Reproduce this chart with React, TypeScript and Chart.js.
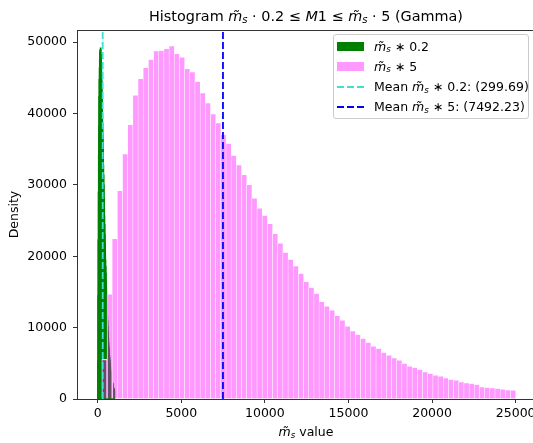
import React, { useEffect, useRef } from 'react';
import { Chart, registerables } from 'chart.js';

Chart.register(...registerables);

// ---- data ----
// histogram of m_s * 5 : 80 equal bins between these edges
const pinkBinStart = 250;
const pinkBinEnd = 25000;
const pinkCounts = [
  5560, 14680, 22430, 29160, 34300, 38410, 42530, 44860, 46400, 47570,
  48740, 48830, 49060, 49440, 48360, 47860, 46260, 45790, 44490, 42850,
  41450, 39910, 38650, 37010, 35800, 34120, 32760, 31400, 30000, 28130,
  26730, 25710, 24530, 23130, 21820, 20520, 19540, 18640, 17580, 16400,
  15610, 14770, 13600, 12990, 12430, 11640, 11030, 10190, 9530, 9020,
  8460, 7900, 7390, 7060, 6500, 6120, 5750, 5420, 4960, 4580,
  4400, 4120, 3780, 3560, 3320, 3180, 2940, 2720, 2620, 2380,
  2240, 2160, 2020, 1680, 1600, 1540, 1460, 1360, 1260, 1220,
];
// histogram of m_s * 0.2 : the same sample scaled by 1/25, 80 bins
const greenBinStart = 10;
const greenBinEnd = 1000;
const greenCounts = [
  5400, 14500, 22300, 29000, 34200, 38300, 42400, 44800, 46400, 47600,
  48600, 48800, 49000, 49200, 48300, 47800, 46300, 45800, 44500, 42900,
  41400, 39900, 38600, 37000, 35800, 34100, 32800, 31400, 30000, 28100,
  26700, 25700, 24500, 23100, 21800, 20500, 19500, 18600, 17600, 16400,
  15600, 14800, 13600, 13000, 12400, 11600, 11000, 10200, 9500, 9000,
  8500, 7900, 7400, 7100, 6500, 6100, 5800, 5400, 5000, 4600,
  4400, 4100, 3800, 3600, 3300, 3200, 2900, 2700, 2600, 2400,
  2200, 2200, 2000, 1700, 1600, 1500, 1500, 1400, 1300, 1200,
];
const meanSmall = 299.69;
const meanLarge = 7492.23;
const xTicks = [0, 5000, 10000, 15000, 20000, 25000];
const yTicks = [0, 10000, 20000, 30000, 40000, 50000];
const xMin = -1238;
const xMax = 26035;
const yMin = 0;
const yMax = 51700;

const FONT = '"DejaVu Sans", sans-serif';

function binsToPoints(start: number, end: number, counts: number[]) {
  const w = (end - start) / counts.length;
  return counts.map((c, i) => ({ x: start + w * (i + 0.5), y: c }));
}

const Ms = () => (
  <span style={{ whiteSpace: 'nowrap' }}>
    <span style={{ fontStyle: 'italic' }}>m&#x303;</span>
    <span style={{ fontStyle: 'italic', fontSize: '0.7em', position: 'relative', top: '0.22em' }}>s</span>
  </span>
);

const DashSwatch = ({ color }: { color: string }) => (
  <svg width={28} height={4} style={{ position: 'absolute', left: 3, top: -2 }}>
    <line x1={0} y1={2} x2={28} y2={2} stroke={color} strokeWidth={1.8} strokeDasharray="7 3" />
  </svg>
);

export default function App() {
  const ref = useRef<HTMLCanvasElement>(null);

  useEffect(() => {
    const canvas = ref.current;
    if (!canvas) return;
    Chart.defaults.font.family = FONT;
    const axisColor = '#333333';
    const plain = (v: any) => String(v);
    const chart = new Chart(canvas, {
      type: 'bar',
      data: {
        datasets: [
          {
            type: 'bar',
            label: 'ms*0.2',
            data: binsToPoints(greenBinStart, greenBinEnd, greenCounts),
            xAxisID: 'x2',
            backgroundColor: '#008000',
            borderWidth: 0,
            barThickness: 1.1,
            grouped: false,
            order: 2,
          } as any,
          {
            type: 'bar',
            label: 'ms*5',
            data: binsToPoints(pinkBinStart, pinkBinEnd, pinkCounts),
            xAxisID: 'x',
            backgroundColor: 'rgba(255,0,255,0.4)',
            borderColor: '#ffffff',
            borderWidth: { left: 0.5, right: 0.5, top: 0.5, bottom: 0 },
            borderSkipped: 'start',
            barPercentage: 1,
            categoryPercentage: 1,
            grouped: false,
            order: 1,
          } as any,
          {
            type: 'line',
            label: 'mean small',
            data: [{ x: meanSmall, y: yMin }, { x: meanSmall, y: yMax }],
            xAxisID: 'x',
            borderColor: '#40E0D0',
            borderWidth: 1.8,
            borderDash: [7, 3],
            pointRadius: 0,
            order: 0,
          } as any,
          {
            type: 'line',
            label: 'mean large',
            data: [{ x: meanLarge, y: yMin }, { x: meanLarge, y: yMax }],
            xAxisID: 'x',
            borderColor: '#0000ff',
            borderWidth: 1.8,
            borderDash: [7, 3],
            pointRadius: 0,
            order: 0,
          } as any,
        ],
      },
      options: {
        responsive: false,
        animation: false,
        devicePixelRatio: 1,
        events: [],
        layout: { padding: { top: 30, right: 0, bottom: 0, left: 0 } },
        plugins: { legend: { display: false }, tooltip: { enabled: false }, title: { display: false } },
        scales: {
          x: {
            type: 'linear',
            position: 'bottom',
            min: xMin,
            max: xMax,
            offset: false,
            grid: { drawOnChartArea: false, drawTicks: true, tickLength: 4, color: axisColor, offset: false },
            border: { display: true, color: axisColor, width: 1 },
            ticks: { color: '#000', font: { size: 12.5, family: FONT }, padding: 3, autoSkip: false, maxRotation: 0, callback: plain },
            afterBuildTicks: (s: any) => { s.ticks = xTicks.map((v) => ({ value: v })); },
            afterFit: (s: any) => { s.height = 44; s.paddingLeft = 0; s.paddingRight = 0; },
          },
          x2: {
            type: 'linear',
            position: 'top',
            min: xMin,
            max: xMax,
            offset: false,
            grid: { drawOnChartArea: false, drawTicks: false, offset: false },
            border: { display: true, color: axisColor, width: 1 },
            ticks: { display: false },
            afterFit: (s: any) => { s.height = 0; s.paddingLeft = 0; s.paddingRight = 0; },
          },
          y: {
            type: 'linear',
            min: yMin,
            max: yMax,
            grid: { drawOnChartArea: false, drawTicks: true, tickLength: 4, color: axisColor },
            border: { display: true, color: axisColor, width: 1 },
            ticks: { color: '#000', font: { size: 12.5, family: FONT }, padding: 6, callback: plain },
            title: { display: true, text: 'Density', color: '#000', font: { size: 12.5, family: FONT }, padding: { top: 7.5, bottom: 0 } },
            afterBuildTicks: (s: any) => { s.ticks = yTicks.map((v) => ({ value: v })); },
            afterFit: (s: any) => { s.width = 77; s.paddingTop = 0; s.paddingBottom = 0; },
          },
        },
      } as any,
    });
    return () => chart.destroy();
  }, []);

  const rowText: React.CSSProperties = {
    position: 'absolute', left: 40, top: -8, fontSize: 12.5, lineHeight: '16px', whiteSpace: 'nowrap', color: '#000',
  };

  return (
    <div style={{ position: 'fixed', left: 0, top: 0, width: 533, height: 443, overflow: 'hidden', background: '#fff', fontFamily: FONT }}>
      <canvas ref={ref} width={533} height={443} style={{ position: 'absolute', left: 0, top: 0, width: 533, height: 443 }} />
      {/* title */}
      <div style={{ position: 'absolute', left: 77, width: 458, top: 7.5, textAlign: 'center', fontSize: 14.4, lineHeight: '17px', whiteSpace: 'nowrap', color: '#000' }}>
        Histogram <Ms /> · 0.2 ≤ <i>M</i>1 ≤ <Ms /> · 5 (Gamma)
      </div>
      {/* x axis label */}
      <div style={{ position: 'absolute', left: 77, width: 458, top: 424, textAlign: 'center', fontSize: 12.5, lineHeight: '15px', whiteSpace: 'nowrap', color: '#000' }}>
        <Ms /> value
      </div>
      {/* legend */}
      <div style={{ position: 'absolute', left: 333, top: 34, width: 196, height: 85, boxSizing: 'border-box', border: '1px solid #cccccc', borderRadius: 3, background: 'rgba(255,255,255,0.8)' }}>
        <div style={{ position: 'absolute', left: 0, top: 11.5 }}>
          <div style={{ position: 'absolute', left: 3, top: -4.5, width: 27, height: 8.5, background: '#008000' }} />
          <div style={rowText}><Ms /> ∗ 0.2</div>
        </div>
        <div style={{ position: 'absolute', left: 0, top: 31.5 }}>
          <div style={{ position: 'absolute', left: 3, top: -4.5, width: 27, height: 8.5, background: 'rgba(255,0,255,0.4)' }} />
          <div style={rowText}><Ms /> ∗ 5</div>
        </div>
        <div style={{ position: 'absolute', left: 0, top: 52 }}>
          <DashSwatch color="#40E0D0" />
          <div style={rowText}>Mean <Ms /> ∗ 0.2: (299.69)</div>
        </div>
        <div style={{ position: 'absolute', left: 0, top: 72 }}>
          <DashSwatch color="#0000ff" />
          <div style={rowText}>Mean <Ms /> ∗ 5: (7492.23)</div>
        </div>
      </div>
    </div>
  );
}
